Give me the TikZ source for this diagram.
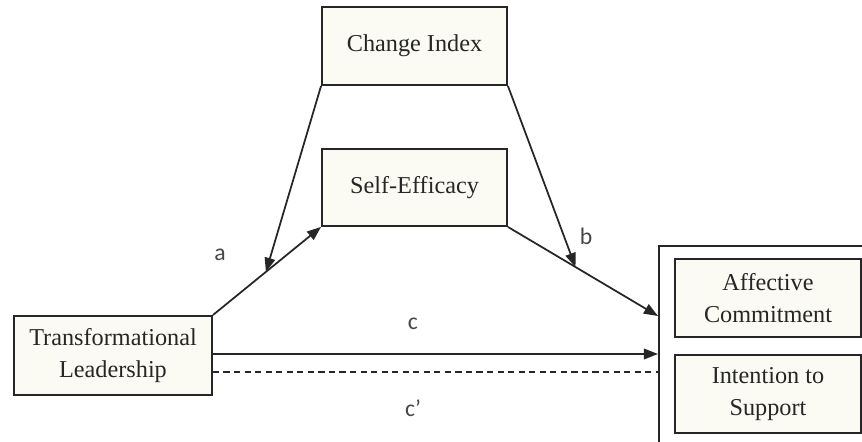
\documentclass[tikz,border=0pt]{standalone}
\usepackage{fontspec}
\setmainfont{Liberation Serif}
\newfontfamily\pathfont{Carlito}
\usetikzlibrary{arrows.meta,positioning,calc}
\definecolor{boxfill}{RGB}{251,251,244}
\definecolor{inkcolor}{RGB}{38,38,38}

\begin{document}
\begin{tikzpicture}[x=0.02cm,y=-0.02cm,
    varbox/.style={draw=inkcolor, fill=boxfill, line width=1.1pt, text=inkcolor,
      font=\fontsize{13.8}{18}\selectfont, align=center, inner sep=0pt},
    linkarrow/.style={draw=inkcolor, line width=1pt, -{Triangle[length=8pt,width=6pt]}},
    pathlabel/.style={text=inkcolor!85, font=\pathfont\fontsize{13.5}{15}\selectfont}]
    \useasboundingbox (0,0) rectangle (862,442);
    % outer frame of the outcomes, cut by the picture edge
    \draw[inkcolor, line width=1.1pt] (862,246) -- (659,246) -- (659,442);
    % variables
    \node[varbox, minimum width=3.7cm, minimum height=1.56cm] (change) at (414.5,46) {Change Index};
    \node[varbox, minimum width=3.7cm, minimum height=1.54cm] (efficacy) at (414.5,187.5) {Self-Efficacy};
    \node[varbox, minimum width=3.96cm, minimum height=1.58cm] (leader) at (113,355.5) {Transformational\\Leadership};
    \node[varbox, minimum width=3.72cm, minimum height=1.56cm] (affective) at (768,298) {Affective\\Commitment};
    \node[varbox, minimum width=3.72cm, minimum height=1.56cm] (support) at (768,394) {Intention to\\Support};
    % ends on the outer frame
    \coordinate (outb) at (658,316);
    \coordinate (outc) at (658,354);
    \coordinate (outd) at (658,372);
    % paths
    \draw[linkarrow] (leader.north east) -- coordinate[pos=0.49] (amid) (efficacy.south west);
    \draw[linkarrow] (efficacy.south east) -- coordinate[pos=0.45] (bmid) (outb);
    \draw[linkarrow] (change.south west) -- (amid);
    \draw[linkarrow] (change.south east) -- (bmid);
    \draw[linkarrow] (leader.east |- outc) -- (outc);
    \draw[inkcolor, line width=1pt, dash pattern=on 3.5pt off 2.5pt] (leader.east |- outd) -- (outd);
    % path labels
    \node[pathlabel] (labela) at (220,255) {a};
    \node[pathlabel] (labelb) at (586,236) {b};
    \node[pathlabel] (labelc) at (413,324) {c};
    \node[pathlabel] (labeld) at (413,408) {c’};
\end{tikzpicture}
\end{document}
